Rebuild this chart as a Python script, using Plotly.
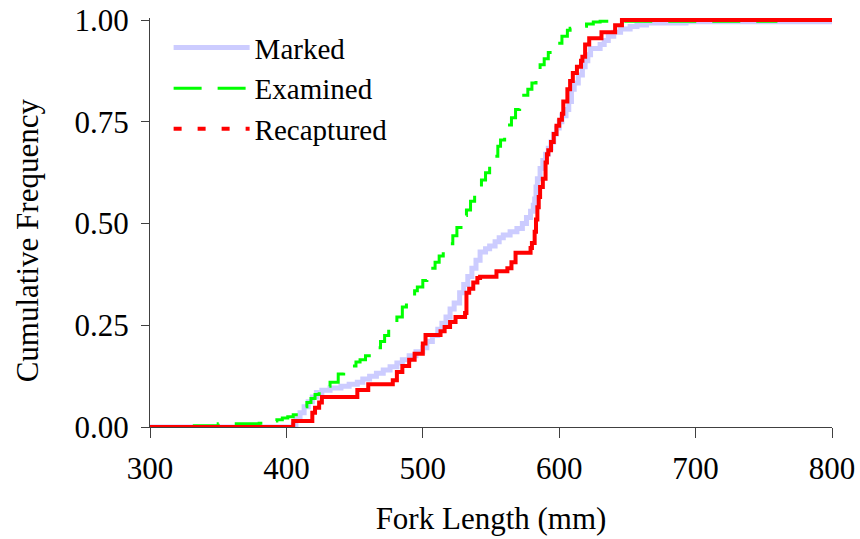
import plotly.graph_objects as go

# ---- data ----
marked_x = [300, 405, 407, 410, 413, 416, 419, 422, 426, 432, 440, 446, 452, 456, 461, 466, 471, 476,
            481, 485, 490, 495, 500, 503, 507, 511, 514, 517, 520, 523, 527, 530, 533, 536, 539, 542,
            546, 549, 553, 556, 559, 564, 569, 573, 576, 579, 581, 582, 583, 584, 586, 588, 590, 592,
            594, 596, 598, 600, 602, 605, 607, 609, 611, 614, 617, 619, 621, 623, 630, 633, 636, 640,
            645, 652, 657, 664, 693, 800]
marked_y = [0.0, 0.005, 0.02, 0.035, 0.05, 0.062, 0.074, 0.085, 0.09, 0.096, 0.10, 0.105, 0.11, 0.118,
            0.125, 0.132, 0.14, 0.148, 0.157, 0.165, 0.175, 0.185, 0.195, 0.21, 0.225, 0.24, 0.255,
            0.27, 0.29, 0.305, 0.33, 0.35, 0.37, 0.39, 0.41, 0.43, 0.438, 0.445, 0.455, 0.465, 0.472,
            0.48, 0.488, 0.50, 0.515, 0.53, 0.545, 0.56, 0.59, 0.61, 0.635, 0.655, 0.67, 0.685, 0.70,
            0.72, 0.735, 0.75, 0.765, 0.78, 0.80, 0.83, 0.845, 0.865, 0.885, 0.90, 0.915, 0.93, 0.94,
            0.95, 0.96, 0.97, 0.978, 0.984, 0.988, 0.993, 0.996, 0.996]

examined_x = [300, 330, 350, 380, 383, 388, 393, 397, 401, 405, 409, 412, 415, 418, 421, 424, 427, 432,
              438, 442, 447, 451, 454, 458, 462, 465, 469, 472, 475, 478, 481, 485, 488, 491, 494, 496,
              500, 503, 506, 509, 512, 515, 519, 522, 525, 528, 530, 532, 535, 538, 541, 543, 546, 549,
              552, 555, 557, 560, 562, 565, 568, 571, 574, 577, 580, 583, 586, 589, 592, 595, 598, 602,
              606, 608, 614, 620, 625, 630, 760]
examined_y = [0.0, 0.003, 0.008, 0.009, 0.01, 0.015, 0.018, 0.022, 0.025, 0.03, 0.04, 0.05, 0.06, 0.07,
              0.08, 0.09, 0.10, 0.11, 0.13, 0.14, 0.15, 0.16, 0.165, 0.175, 0.185, 0.195, 0.21, 0.225,
              0.24, 0.255, 0.27, 0.295, 0.31, 0.32, 0.335, 0.344, 0.36, 0.378, 0.39, 0.405, 0.42, 0.43,
              0.45, 0.47, 0.49, 0.505, 0.52, 0.533, 0.555, 0.575, 0.59, 0.607, 0.625, 0.645, 0.665,
              0.69, 0.705, 0.725, 0.742, 0.76, 0.78, 0.80, 0.815, 0.83, 0.845, 0.87, 0.89, 0.905, 0.92,
              0.935, 0.943, 0.96, 0.975, 0.98, 0.985, 0.99, 0.995, 0.997, 0.997]

recap_x = [300, 405, 419, 421, 424, 426, 452, 460, 478, 481, 485, 490, 494, 500, 502, 513, 516, 520, 524,
           531, 532, 534, 537, 540, 542, 554, 562, 565, 568, 579, 580, 582, 583, 584, 585, 586, 588, 590,
           591, 592, 594, 596, 598, 600, 602, 603, 606, 608, 610, 613, 616, 617, 619, 622, 631, 641, 646,
           800]
recap_y = [0.0, 0.015, 0.035, 0.047, 0.06, 0.074, 0.091, 0.105, 0.115, 0.135, 0.15, 0.165, 0.18, 0.205,
           0.226, 0.235, 0.246, 0.258, 0.27, 0.28, 0.33, 0.34, 0.355, 0.366, 0.369, 0.383, 0.39, 0.405,
           0.428, 0.44, 0.452, 0.48, 0.51, 0.54, 0.565, 0.59, 0.61, 0.65, 0.67, 0.68, 0.70, 0.72, 0.74,
           0.755, 0.77, 0.80, 0.83, 0.85, 0.87, 0.885, 0.90, 0.91, 0.94, 0.955, 0.97, 0.987, 1.0, 1.0]

series_names = ["Marked", "Examined", "Recaptured"]
x_ticks = [300, 400, 500, 600, 700, 800]
y_ticks = [0.0, 0.25, 0.5, 0.75, 1.0]

FONT = "Liberation Serif"
AXIS_COLOR = "#404040"

fig = go.Figure()
# data curves (drawn without legend entries)
fig.add_trace(go.Scatter(x=marked_x, y=marked_y, mode="lines", name=series_names[0], showlegend=False,
                         legendgroup="m", line=dict(color="#CCCCFF", width=5, shape="hv")))
fig.add_trace(go.Scatter(x=examined_x, y=examined_y, mode="lines", name=series_names[1], showlegend=False,
                         legendgroup="e",
                         line=dict(color="#00FF00", width=3, shape="hv", dash="28px,16px")))
fig.add_trace(go.Scatter(x=recap_x, y=recap_y, mode="lines", name=series_names[2], showlegend=False,
                         legendgroup="r", line=dict(color="#FF0000", width=4, shape="hv")))
# legend keys (line style as in the legend of the reference)
fig.add_trace(go.Scatter(x=[None], y=[None], mode="lines", name=series_names[0], legendgroup="m",
                         line=dict(color="#CCCCFF", width=5)))
fig.add_trace(go.Scatter(x=[None], y=[None], mode="lines", name=series_names[1], legendgroup="e",
                         line=dict(color="#00FF00", width=3, dash="28px,16px")))
fig.add_trace(go.Scatter(x=[None], y=[None], mode="lines", name=series_names[2], legendgroup="r",
                         line=dict(color="#FF0000", width=4, dash="8px,16px")))

fig.update_layout(
    width=860, height=539,
    margin=dict(l=150, r=28, t=18, b=112, autoexpand=False),
    paper_bgcolor="white", plot_bgcolor="white",
    font=dict(family=FONT, size=31, color="black"),
    showlegend=True,
    legend=dict(x=0.0273, y=0.99, xanchor="left", yanchor="top", bgcolor="rgba(0,0,0,0)",
                font=dict(family=FONT, size=29, color="black"), itemwidth=76, tracegroupgap=0),
    xaxis=dict(range=[300, 800], tickvals=x_ticks, ticks="outside", ticklen=10, tickwidth=1,
               tickcolor=AXIS_COLOR, showline=True, linecolor=AXIS_COLOR, linewidth=1,
               showgrid=False, zeroline=False, automargin=False, ticklabelstandoff=4,
               tickfont=dict(family=FONT, size=31, color="black"),
               title=dict(text="Fork Length (mm)", font=dict(family=FONT, size=31, color="black"),
                          standoff=22)),
    yaxis=dict(range=[0, 1.005], tickvals=y_ticks, tickformat=".2f", ticks="outside", ticklen=8,
               tickwidth=1, tickcolor=AXIS_COLOR, showline=True, linecolor=AXIS_COLOR, linewidth=1,
               showgrid=False, zeroline=False, ticklabelstandoff=6, automargin=False,
               tickfont=dict(family=FONT, size=31, color="black")),
    annotations=[dict(text="Cumulative Frequency", textangle=-90, xref="paper", yref="paper",
                      x=-0.18, y=0.457, showarrow=False, font=dict(family=FONT, size=31, color="black"),
                      xanchor="center", yanchor="middle")],
)

fig.write_html("out.html")
